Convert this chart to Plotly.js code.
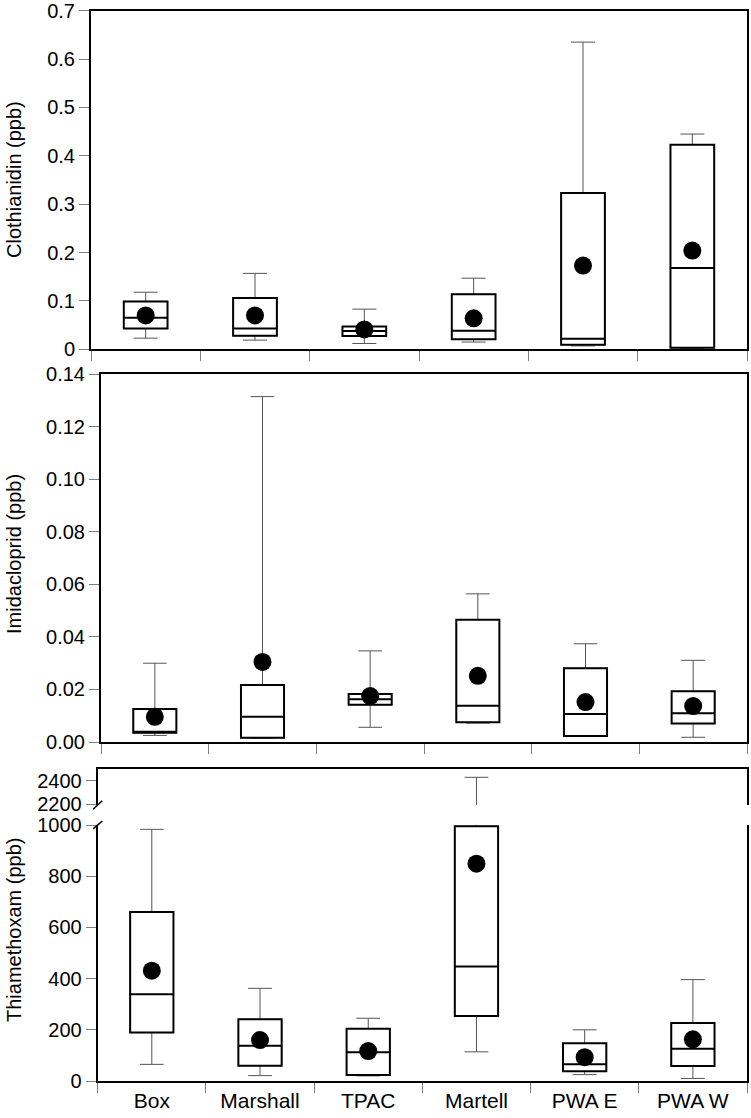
<!DOCTYPE html>
<html>
<head>
<meta charset="utf-8">
<script src="https://cdn.plot.ly/plotly-3.0.1.min.js"></script>
<style>html,body{margin:0;padding:0;background:#fff;}</style>
</head>
<body>
<div id="chart" style="width:751px;height:1118px;"></div>
<script>
const categories = ['Box', 'Marshall', 'TPAC', 'Martell', 'PWA E', 'PWA W'];

// Clothianidin (ppb)
const cloLower = [0.023, 0.019, 0.012, 0.015, 0.007, 0.002];
const cloQ1    = [0.043, 0.028, 0.0275, 0.021, 0.0095, 0.003];
const cloMed   = [0.065, 0.043, 0.038, 0.0385, 0.022, 0.168];
const cloQ3    = [0.099, 0.106, 0.047, 0.114, 0.323, 0.423];
const cloUpper = [0.118, 0.157, 0.083, 0.147, 0.635, 0.445];
const cloMean  = [0.070, 0.070, 0.041, 0.064, 0.173, 0.204];

// Imidacloprid (ppb)
const imiLower = [0.0025, 0.0015, 0.0056, 0.0072, 0.0022, 0.0018];
const imiQ1    = [0.0035, 0.0016, 0.0142, 0.0075, 0.0023, 0.0070];
const imiMed   = [0.0039, 0.0096, 0.0163, 0.0138, 0.0107, 0.0109];
const imiQ3    = [0.0126, 0.0217, 0.0183, 0.0465, 0.0281, 0.0193];
const imiUpper = [0.0300, 0.1315, 0.0347, 0.0564, 0.0374, 0.0311];
const imiMean  = [0.0096, 0.0305, 0.0175, 0.0252, 0.0152, 0.0137];

// Thiamethoxam (ppb)
const thiLower = [65, 21, 20, 114, 25, 10];
const thiQ1    = [189, 60, 23, 254, 38, 59];
const thiMed   = [339, 138, 112, 447, 65, 126];
const thiQ3    = [660, 241, 204, 995, 147, 227];
const thiUpper = [983, 362, 245, 2429, 200, 396];
const thiMean  = [431, 160, 117, 849, 93, 163];

const cloTicks = [0, 0.1, 0.2, 0.3, 0.4, 0.5, 0.6, 0.7];
const cloTickText = ['0', '0.1', '0.2', '0.3', '0.4', '0.5', '0.6', '0.7'];
const imiTicks = [0, 0.02, 0.04, 0.06, 0.08, 0.10, 0.12, 0.14];
const imiTickText = ['0.00', '0.02', '0.04', '0.06', '0.08', '0.10', '0.12', '0.14'];
const thiTicksLow = [0, 200, 400, 600, 800, 1000];
const thiTicksHigh = [2200, 2400];

const FONT = 'Liberation Sans, Arial, sans-serif';

function boxTraces(xa, ya, lo, q1, med, q3, up, mean, withMean) {
  const t = [];
  // whiskers (thin grey)
  t.push({
    type: 'box', x: categories, q1: q1, median: med, q3: q3,
    lowerfence: lo, upperfence: up,
    xaxis: xa, yaxis: ya, width: 0.4, whiskerwidth: 0.55,
    line: {color: '#555555', width: 1}, fillcolor: 'rgba(0,0,0,0)',
    boxpoints: false, hoverinfo: 'skip'
  });
  // box body (thick black)
  t.push({
    type: 'box', x: categories, q1: q1, median: med, q3: q3,
    lowerfence: q1, upperfence: q3,
    xaxis: xa, yaxis: ya, width: 0.4, whiskerwidth: 0,
    line: {color: '#000000', width: 2}, fillcolor: '#ffffff',
    boxpoints: false, hoverinfo: 'skip'
  });
  if (withMean) {
    t.push({
      type: 'scatter', mode: 'markers', x: categories, y: mean,
      xaxis: xa, yaxis: ya,
      marker: {color: '#000000', size: 18}, hoverinfo: 'skip'
    });
  }
  return t;
}

const data = [].concat(
  boxTraces('x', 'y', cloLower, cloQ1, cloMed, cloQ3, cloUpper, cloMean, true),
  boxTraces('x2', 'y2', imiLower, imiQ1, imiMed, imiQ3, imiUpper, imiMean, true),
  boxTraces('x3', 'y3', thiLower, thiQ1, thiMed, thiQ3, thiUpper, thiMean, true),
  boxTraces('x4', 'y4', thiLower, thiQ1, thiMed, thiQ3, thiUpper, thiMean, false)
);

const W = 751, H = 1118;
const axBase = {
  showline: true, linecolor: '#000000', linewidth: 2,
  ticks: 'outside', ticklen: 10, tickcolor: '#7f7f7f', tickwidth: 1,
  showgrid: false, zeroline: false, fixedrange: true,
  ticklabeloverflow: 'allow',
  tickfont: {family: FONT, size: 20, color: '#000000'}
};
function xAx(anchor, x0, extra) {
  return Object.assign({}, axBase, {
    type: 'category', categoryorder: 'array', categoryarray: categories,
    anchor: anchor, domain: [x0 / W, 747 / W], tickson: 'boundaries',
    range: [-0.5, 5.5]
  }, extra || {});
}
function yAx(anchor, yTop, yBot, extra) {
  return Object.assign({}, axBase, {
    anchor: anchor, domain: [1 - yBot / H, 1 - yTop / H], mirror: true
  }, extra || {});
}

const layout = {
  width: W, height: H,
  margin: {l: 0, r: 0, t: 0, b: 0},
  paper_bgcolor: '#ffffff', plot_bgcolor: '#ffffff',
  showlegend: false, boxmode: 'overlay',
  font: {family: FONT, size: 20, color: '#000000'},
  xaxis: xAx('y', 91, {mirror: true, showticklabels: false}),
  yaxis: yAx('x', 10.7, 349.3, {range: [0, 0.7], tickvals: cloTicks, ticktext: cloTickText}),
  xaxis2: xAx('y2', 101, {mirror: true, showticklabels: false}),
  yaxis2: yAx('x2', 374.3, 742, {range: [0, 0.14], tickvals: imiTicks, ticktext: imiTickText}),
  xaxis3: xAx('y3', 97.7, {mirror: false, showticklabels: true, tickfont: {family: FONT, size: 21, color: '#000000'}}),
  yaxis3: yAx('x3', 825, 1081, {range: [0, 1000], tickvals: thiTicksLow}),
  xaxis4: xAx('y4', 97.7, {matches: 'x3', side: 'top', ticks: '', showticklabels: false, mirror: false}),
  yaxis4: yAx('x4', 769.3, 805, {range: [2194, 2497], tickvals: thiTicksHigh}),
  annotations: [
    {text: 'Clothianidin (ppb)', xref: 'paper', yref: 'paper', x: 14 / W, y: 1 - 180 / H,
     textangle: -90, showarrow: false, xanchor: 'center', yanchor: 'middle',
     font: {family: FONT, size: 20, color: '#000000'}},
    {text: 'Imidacloprid (ppb)', xref: 'paper', yref: 'paper', x: 14 / W, y: 1 - 554 / H,
     textangle: -90, showarrow: false, xanchor: 'center', yanchor: 'middle',
     font: {family: FONT, size: 20, color: '#000000'}},
    {text: 'Thiamethoxam (ppb)', xref: 'paper', yref: 'paper', x: 14 / W, y: 1 - 930 / H,
     textangle: -90, showarrow: false, xanchor: 'center', yanchor: 'middle',
     font: {family: FONT, size: 20, color: '#000000'}}
  ],
  shapes: [
    {type: 'line', xref: 'x3 domain', yref: 'y3 domain', x0: -0.007, x1: 0.007, y0: 0.985, y1: 1.015,
     line: {color: '#000000', width: 1.5}},
    {type: 'line', xref: 'x4 domain', yref: 'y4 domain', x0: -0.007, x1: 0.007, y0: -0.12, y1: 0.12,
     line: {color: '#000000', width: 1.5}}
  ]
};

Plotly.newPlot('chart', data, layout, {staticPlot: true, displayModeBar: false});
</script>
</body>
</html>
